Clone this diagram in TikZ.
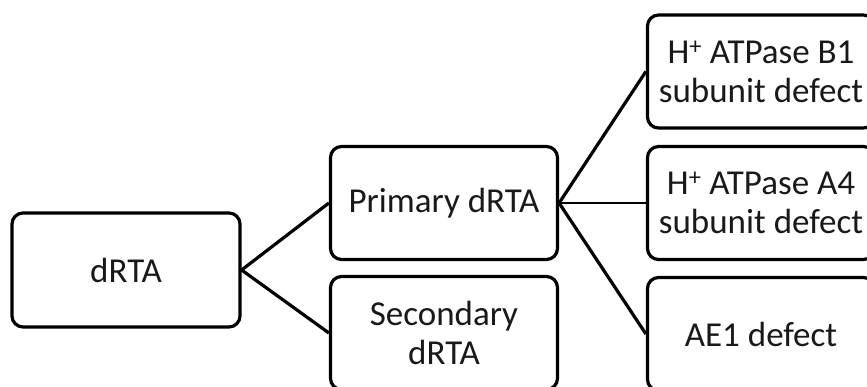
\documentclass[tikz,border=0pt]{standalone}
\usepackage{fontspec}
\setmainfont{Carlito}
\begin{document}
\begin{tikzpicture}[x=1pt,y=-1pt,
  box/.style={draw=black,line width=3.2pt,rounded corners=11pt,fill=white,
    minimum width=227pt,minimum height=113pt,inner sep=0pt,align=center,
    font=\fontsize{35}{39}\selectfont,text=black!90},
  link/.style={draw=black,line width=3.2pt}]
\useasboundingbox (0,0) rectangle (867,387);
\clip (0,0) rectangle (867,387);
% tree of dRTA types
\node[box,minimum width=228pt,minimum height=114pt] (root) at (126,270) {dRTA};
\node[box] (prim) at (444,203) {Primary dRTA};
\node[box] (sec)  at (444,333) {Secondary\\dRTA};
\node[box] (b1)   at (761,71.5) {H\textsuperscript{+} ATPase B1\\subunit defect};
\node[box] (a4)   at (761,203) {H\textsuperscript{+} ATPase A4\\subunit defect};
\node[box] (ae1)  at (761,334) {AE1 defect};
% connectors
\draw[link] (prim.west) -- (root.east) -- (sec.west);
\draw[link] (b1.west) -- (prim.east) -- (ae1.west);
\draw[link,line width=2.6pt] (prim.east) -- (a4.west);
\end{tikzpicture}
\end{document}
